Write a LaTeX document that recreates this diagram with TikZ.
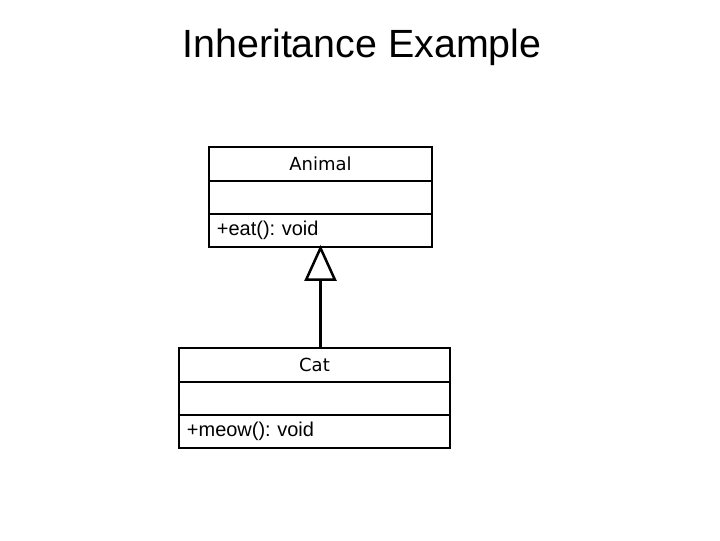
\documentclass[tikz,border=0pt]{standalone}
\usepackage{fontspec}
\setmainfont{Liberation Sans}
\newfontfamily\umlfont{DejaVu Sans}
\usetikzlibrary{arrows.meta, positioning}

\begin{document}
\frenchspacing
\begin{tikzpicture}[
    x=0.025cm, y=-0.025cm,
    node distance=0pt,
    part/.style={draw, line width=1.5pt, outer sep=0pt, inner sep=0pt,
                 minimum height=0.833cm},
    head/.style={part, font=\umlfont\fontsize{12.8}{15}\selectfont},
    ops/.style={part, inner xsep=0.2cm, align=left,
                font=\fontsize{14.2}{17}\selectfont},
    inherit/.style={-{Triangle[open, length=0.9cm, width=0.8cm, line width=1.8pt]},
                    line width=2.8pt, shorten >=-0.06cm}
  ]
  \useasboundingbox (0,0) rectangle (720,540);

  \node[font=\fontsize{28}{33}\selectfont, anchor=base] (title) at (362,57) {Inheritance Example};

  % superclass
  \node[head, minimum width=5.575cm] (animal) at (320.5,164) {Animal};
  \node[part, minimum width=5.575cm, below=of animal] (animalattr) {};
  \node[ops, minimum width=5.575cm, text width=5.175cm, below=of animalattr] (animalops) {+eat(): void};

  % subclass
  \node[head, minimum width=6.775cm] (cat) at (314.5,365) {Cat};
  \node[part, minimum width=6.775cm, below=of cat] (catattr) {};
  \node[ops, minimum width=6.775cm, text width=6.375cm, below=of catattr] (catops) {+meow(): void};

  \draw[inherit] (cat.north -| animalops.south) -- (animalops.south);
\end{tikzpicture}
\end{document}
